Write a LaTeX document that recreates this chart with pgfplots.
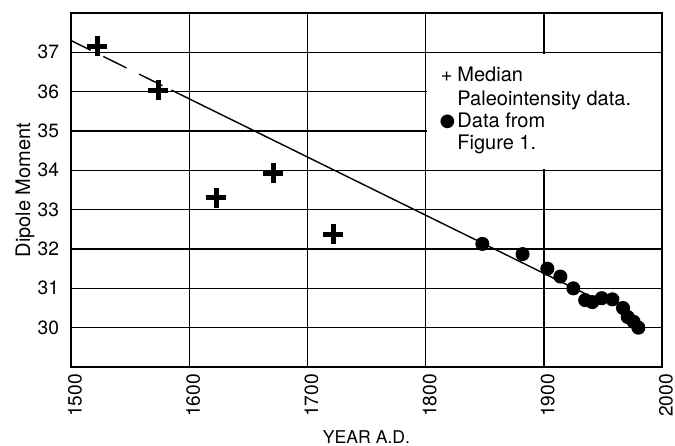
\documentclass[border=0pt]{standalone}
\usepackage{pgfplots}
\pgfplotsset{compat=1.18}
\usetikzlibrary{calc}
\usepackage{fontspec}
\setmainfont{TeX Gyre Heros}
\newfontfamily\dejavu{DejaVu Sans}

\begin{document}
\begin{tikzpicture}
\begin{axis}[
    set layers=standard,
    scale only axis,
    width=295.5pt, height=177pt,
    xmin=1500, xmax=2000,
    ymin=29, ymax=38,
    xtick={1500,1600,1700,1800,1900,2000},
    ytick={30,31,32,33,34,35,36,37},
    major tick length=0pt,
    grid=major,
    grid style={black, line width=0.7pt},
    axis line style={line width=1pt},
    /pgf/number format/1000 sep={},
    /pgf/number format/assume math mode=true,
    tick label style={font=\fontsize{9.6}{11}\selectfont},
    xticklabel style={rotate=90, anchor=east, yshift=-2pt},
    yticklabel style={xshift=-2.5pt},
    xlabel={YEAR A.D.},
    ylabel={Dipole Moment},
    xlabel style={font=\fontsize{8.8}{10}\selectfont,
        at={(axis description cs:0.5,-0.215)}, anchor=base},
    ylabel style={font=\fontsize{10}{11}\selectfont,
        at={(axis description cs:-0.05,0.5)}, anchor=south},
    clip=false,
]
\coordinate (sw) at (rel axis cs:0,0);
\coordinate (ne) at (rel axis cs:1,1);

% fitted trend, dashed where extrapolated
\addplot[black, line width=0.7pt, dash pattern=on 13pt off 7pt, dash phase=2pt]
    coordinates {(1500,37.3) (1585,36.04)};
\addplot[black, line width=0.7pt]
    coordinates {(1585,36.04) (1942,30.76)};

% median paleointensity data
\addplot[only marks, mark=+, mark size=5pt, mark options={line width=2.5pt, black}]
    coordinates {
    (1522,37.15) (1574,36.03) (1623,33.3) (1671,33.92) (1722,32.38)
};

% data from figure 1
\addplot[only marks, mark=*, mark size=3.3pt, black]
    coordinates {
    (1848,32.13) (1882,31.87) (1903,31.5) (1914,31.3) (1925,31.0)
    (1935,30.7) (1941,30.65) (1949,30.75) (1958,30.72) (1967,30.5)
    (1971,30.27) (1976,30.15) (1980,30.0)
};

% key, on a white patch that hides the grid
\begin{pgfonlayer}{axis foreground}
\fill[white] (axis cs:1800.9,34.03) rectangle (axis cs:1999,36.97);
\begin{scope}[font=\fontsize{10}{11}\selectfont, inner sep=0pt]
\node[anchor=base west] at (axis cs:1812.5,36.25) {+};
\node[anchor=base west] at (axis cs:1826.6,36.25) {Median};
\node[anchor=base west] at (axis cs:1826.6,35.66) {Paleointensity data.};
\node[anchor=base west] at (axis cs:1811.5,35.11) {\dejavu\fontsize{9}{10}\selectfont ●};
\node[anchor=base west] at (axis cs:1826.6,35.08) {Data from};
\node[anchor=base west] at (axis cs:1826.6,34.52) {Figure 1.};
\end{scope}
\end{pgfonlayer}
\end{axis}
\pgfresetboundingbox
\path[use as bounding box] ($(sw)+(-35.5pt,-39.5pt)$) rectangle ($(ne)+(6.5pt,6.5pt)$);
\end{tikzpicture}
\end{document}
